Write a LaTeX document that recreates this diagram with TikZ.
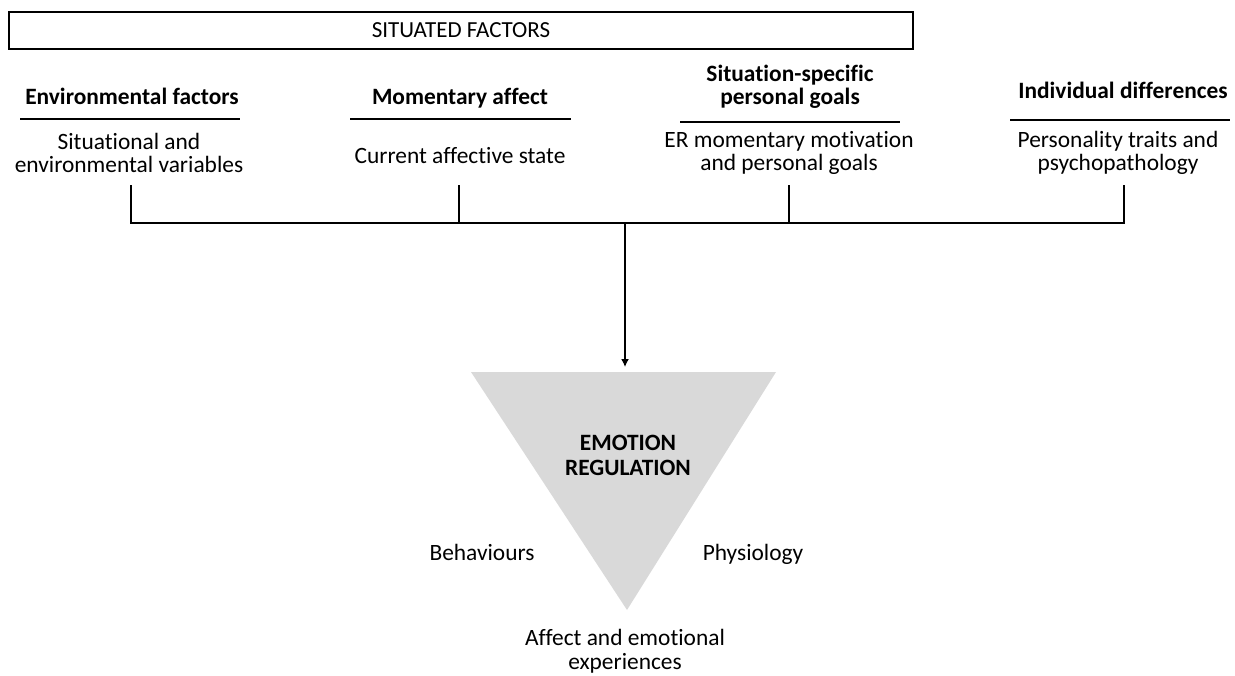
\documentclass[tikz,border=0pt]{standalone}
\usepackage{fontspec}
\setmainfont{Carlito}[Ligatures=NoCommon]
\usetikzlibrary{arrows.meta,positioning}
\tikzset{
  sitbox/.style = { draw, line width=0.65pt, minimum width=452pt, minimum height=18.5pt,
    inner sep=0pt, font=\fontsize{11.5pt}{12pt}\selectfont },
  head/.style   = { align=center, inner sep=0pt, anchor=base, font=\fontsize{11.7pt}{11.5pt}\selectfont\bfseries },
  body/.style   = { align=center, inner sep=0pt, anchor=base, font=\fontsize{11.7pt}{11.5pt}\selectfont },
  rule/.style   = { line width=1pt },
  link/.style   = { line width=0.75pt },
  ertri/.style  = { fill=black!15 }
}

\begin{document}
\begin{tikzpicture}[x=0.5pt,y=-0.5pt]
    \useasboundingbox (0,0) rectangle (1235,675);
    % banner
    \node[sitbox] (sit) at (461,30.5) {SITUATED FACTORS};

    % the four factors (base = last line)
    \node[head] (hEnv)  at (132,104)  {Environmental factors};
    \node[head] (hMom)  at (460,104)  {Momentary affect};
    \node[head] (hGoal) at (790,104)  {Situation-specific\\personal goals};
    \node[head] (hInd)  at (1123,98)  {Individual differences};

    \draw[rule] (20,119)   -- (240,119);
    \draw[rule] (350,119)  -- (571,119);
    \draw[rule] (680,122)  -- (900,122);
    \draw[rule] (1010,120) -- (1230,120);

    \node[body] (bEnv)  at (129,172)  {Situational and\\environmental variables};
    \node[body] (bMom)  at (460,163)  {Current affective state};
    \node[body] (bGoal) at (789,170)  {ER momentary motivation\\and personal goals};
    \node[body] (bInd)  at (1118,170) {Personality traits and\\psychopathology};

    % bracket
    \coordinate (tEnv)  at (131,185);  \coordinate (jEnv)  at (131,223);
    \coordinate (tMom)  at (459,185);  \coordinate (jMom)  at (459,223);
    \coordinate (tGoal) at (789,185);  \coordinate (jGoal) at (789,223);
    \coordinate (tInd)  at (1124,185); \coordinate (jInd)  at (1124,223);
    \coordinate (hub)   at (625,223);
    \foreach \f in {Env,Mom,Goal,Ind}
      \draw[link] (t\f) -- (j\f);
    \draw[link,line cap=rect] (jEnv) -- (jInd);

    % emotion regulation
    \coordinate (triL) at (471,372);
    \coordinate (triR) at (776,372);
    \coordinate (triB) at (627,610);
    \coordinate (triT) at (625,372);
    \fill[ertri] (triL) -- (triR) -- (triB) -- cycle;
    \draw[link,shorten >=2.5pt,-{Latex[length=4pt,width=4pt]}] (hub) -- (triT);

    \node[head,font=\fontsize{11.7pt}{12.5pt}\selectfont\bfseries] (er) at (628,475) {EMOTION\\REGULATION};
    \node[body] (beh)   at (482,560) {Behaviours};
    \node[body] (phys)  at (753,560) {Physiology};
    \node[body,font=\fontsize{11.7pt}{12pt}\selectfont] (aff) at (625,669) {Affect and emotional\\experiences};
\end{tikzpicture}
\end{document}
